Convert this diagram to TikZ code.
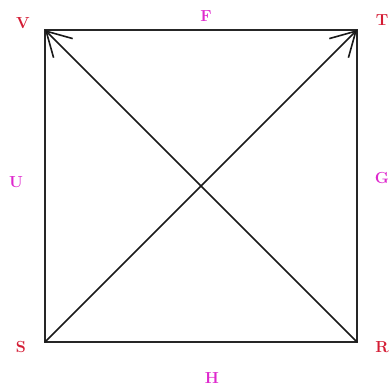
\documentclass[tikz,border=0pt]{standalone}
\usepackage{tikz}
\usetikzlibrary{arrows.meta}

\definecolor{ptred}{RGB}{212,28,52}
\definecolor{sidemag}{RGB}{222,40,205}

\begin{document}
\begin{tikzpicture}[
    x=1pt, y=-1pt,
    pt/.style={text=ptred, font=\fontsize{16}{18}\selectfont\bfseries, inner sep=0pt},
    side/.style={text=sidemag, font=\fontsize{16}{18}\selectfont\bfseries, inner sep=0pt},
    edge/.style={draw, line width=2pt, black!85},
    arrow/.style={-{Straight Barb[length=24pt, width=27pt, line width=1.6pt]}, line width=1.6pt, black!90}
]
\useasboundingbox (0,0) rectangle (390,388);

% 顶点
\coordinate (V) at (45,30);
\coordinate (T) at (357,30);
\coordinate (S) at (45,342);
\coordinate (R) at (357,342);

% 正方形
\draw[edge] (V) -- (T) -- (R) -- (S) -- cycle;

% 对角线
\draw[arrow] (R) -- (V);
\draw[arrow] (S) -- (T);

% 顶点标签
\node[pt] (lV) at (23,23) {V};
\node[pt] (lT) at (382,20) {T};
\node[pt] (lS) at (21,347) {S};
\node[pt] (lR) at (382,347) {R};

% 边标签
\node[side] (lF) at (206,16) {F};
\node[side] (lU) at (16,182) {U};
\node[side] (lG) at (382,178) {G};
\node[side] (lH) at (212,378) {H};
\end{tikzpicture}
\end{document}
